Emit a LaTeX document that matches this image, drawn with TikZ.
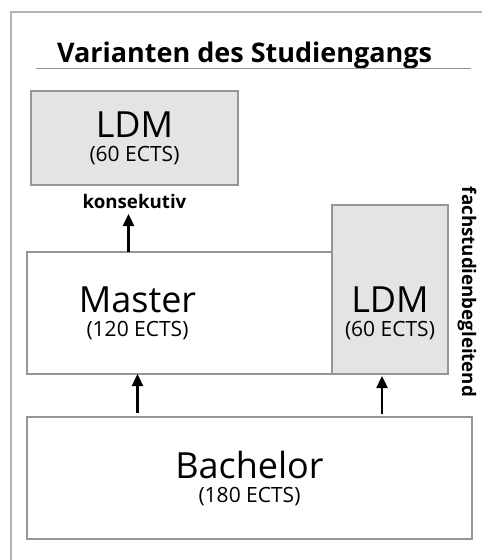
\documentclass[tikz,border=0pt]{standalone}
\usepackage{fontspec}
\setmainfont{Open Sans}
\usetikzlibrary{arrows.meta, positioning}
\definecolor{myfill}{RGB}{227,228,227}
\definecolor{myline}{RGB}{150,150,150}
\definecolor{myframe}{RGB}{180,180,180}
\newcommand{\stagename}[2]{{\fontsize{36}{24}\selectfont #1}\\#2}

\begin{document}
\begin{tikzpicture}[x=1pt,y=-1pt,every node/.style={inner sep=0pt,outer sep=0pt},
    stage/.style={draw=myline,line width=1.2pt},
    ldm/.style={stage,fill=myfill},
    stagetext/.style={align=center,font=\fontsize{21}{24}\selectfont},
    tag/.style={font=\bfseries\fontsize{18.7}{19}\selectfont},
    up/.style={-{Triangle[width=11pt,length=12pt]},line width=2.4pt,black}]
    \useasboundingbox (0,0) rectangle (482,560);
    \draw[myframe,line width=1.5pt] (482,12) -- (11,12) -- (11,560);
    \node[anchor=base west,font=\bfseries\fontsize{27}{27}\selectfont] (title) at (57,62) {Varianten des Studiengangs};
    \draw[myline,line width=0.8pt] (36,68) -- (471,68);
    % boxes
    \node[stage,anchor=north west,minimum width=445pt,minimum height=122pt] (bachelor) at (27,417) {};
    \node[stage,minimum width=305pt,minimum height=122pt,above right=43pt and 0pt of bachelor.north west] (master) {};
    \node[ldm,anchor=south west,minimum width=116pt,minimum height=169pt] (ldmfach) at (master.south east) {};
    \node[ldm,minimum width=207pt,minimum height=94pt,above right=67pt and 4pt of master.north west] (ldmkons) {};
    % labels
    \node[stagetext] (bachelortext) at (bachelor.center) {\stagename{Bachelor}{(180 ECTS)}};
    \node[stagetext] (mastertext) at ([xshift=-42pt]master.center) {\stagename{Master}{(120 ECTS)}};
    \node[stagetext] (ldmfachtext) at (ldmfach.center |- master.center) {\stagename{LDM}{(60 ECTS)}};
    \node[stagetext] (ldmkonstext) at (ldmkons.center) {\stagename{LDM}{(60 ECTS)}};
    \node[tag,anchor=base] (kons) at ([yshift=-23pt]ldmkons.south) {konsekutiv};
    \node[tag,rotate=-90] (fach) at (467,292) {fachstudienbegleitend};
    % arrows
    \coordinate (kons-end) at ([yshift=-6pt]kons.base);
    \draw[up] (master.north -| kons-end) ++(-6pt,0) coordinate (kons-start) -- (kons-start |- kons-end);
    \draw[up,shorten <=4pt] (bachelor.north -| mastertext) -- (master.south -| mastertext);
    \draw[up,shorten <=3pt,shorten >=2pt] (bachelor.north -| ldmfachtext) ++(-8pt,0) coordinate (fach-start) -- (fach-start |- master.south);
\end{tikzpicture}
\end{document}
